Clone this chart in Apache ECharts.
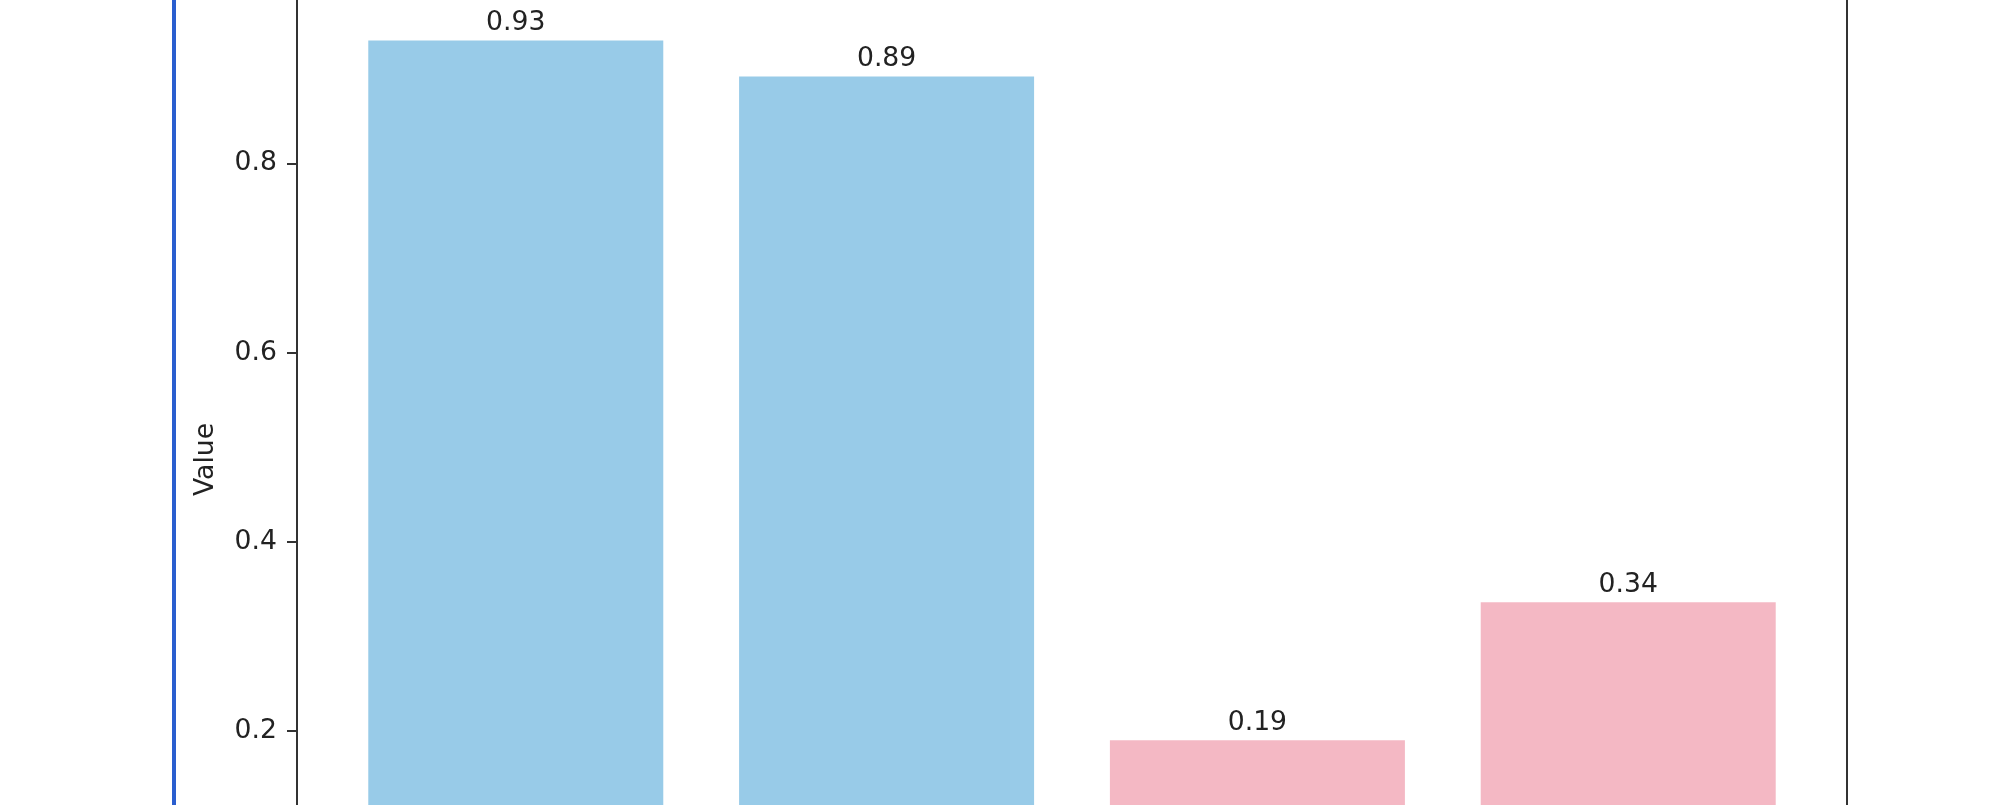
<!DOCTYPE html>
<html>
<head>
<meta charset="utf-8">
<script src="https://cdn.jsdelivr.net/npm/echarts@6/dist/echarts.min.js"></script>
<style>
  html, body { margin: 0; padding: 0; background: #ffffff; overflow: hidden; width: 2015px; height: 805px; }
  #chart { width: 2015px; height: 1000px; position: absolute; left: 0; top: -1px; }
  #edge { position: absolute; left: 172px; top: 0; width: 3.5px; height: 805px; background: #2a5ecf; }
</style>
</head>
<body>
<div id="chart"></div>
<div id="edge"></div>
<script>
// Data (categories are below the visible area of the reference)
const categories = ['A', 'B', 'C', 'D'];
const values = [0.93, 0.892, 0.19, 0.336];
const barColors = ['#98cbe8', '#98cbe8', '#f4b8c4', '#f4b8c4'];
const yTicks = [0.2, 0.4, 0.6, 0.8];
const yAxisName = 'Value';

const FONT = 'DejaVu Sans';
const chart = echarts.init(document.getElementById('chart'), null, { renderer: 'canvas' });

const option = {
  animation: false,
  backgroundColor: '#ffffff',
  grid: {
    left: 297, top: 0, width: 1550, height: 921,
    show: true, borderColor: '#333333', borderWidth: 2, backgroundColor: 'transparent'
  },
  xAxis: {
    type: 'value',
    min: -0.59, max: 3.59,
    show: false
  },
  yAxis: {
    type: 'value',
    min: 0, max: 0.974, interval: 0.2,
    name: yAxisName,
    nameLocation: 'middle',
    nameRotate: 90,
    nameGap: 77,
    nameTextStyle: { fontFamily: FONT, fontSize: 26.67, color: '#222222' },
    axisLine: { show: true, onZero: false, lineStyle: { color: '#333333', width: 2 } },
    axisTick: { show: true, inside: false, length: 10, lineStyle: { color: '#333333', width: 2 } },
    axisLabel: {
      fontFamily: FONT, fontSize: 26.67, color: '#222222', margin: 20,
      formatter: function (v) { return yTicks.some(t => Math.abs(t - v) < 1e-9) ? v.toFixed(1) : ''; }
    },
    splitLine: { show: false }
  },
  series: [{
    type: 'bar',
    barWidth: 295,
    data: categories.map((c, i) => ({
      name: c,
      value: [i, values[i]],
      itemStyle: { color: barColors[i] }
    })),
    label: {
      show: true,
      position: 'top',
      distance: 4,
      fontFamily: FONT,
      fontSize: 26.67,
      color: '#222222',
      formatter: function (p) { return p.value[1].toFixed(2); }
    }
  }]
};
chart.setOption(option);
</script>
</body>
</html>
